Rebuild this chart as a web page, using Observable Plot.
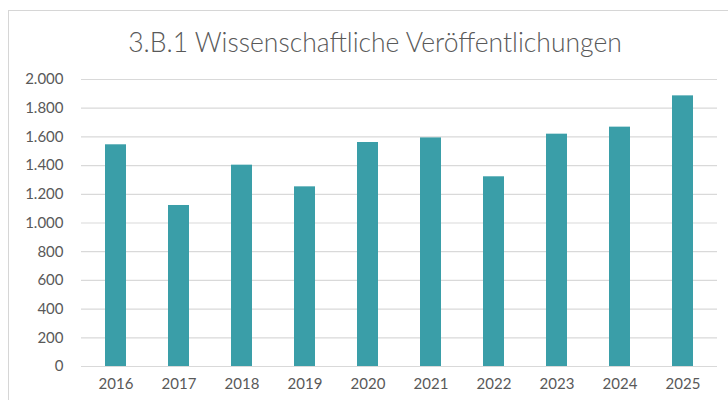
<!DOCTYPE html>
<html>
<head>
<meta charset="utf-8">
<script src="https://cdn.jsdelivr.net/npm/d3@7"></script>
<script src="https://cdn.jsdelivr.net/npm/@observablehq/plot@0.6"></script>
<style>
  html, body { margin: 0; padding: 0; background: #fff; overflow: hidden; }
  #wrap { position: relative; width: 728px; height: 400px; overflow: hidden; }
  #frame { position: absolute; left: 8px; top: 10px; width: 800px; height: 500px; border: 1px solid #d6d6d6; box-sizing: border-box; }
  #title { position: absolute; left: 0; width: 750px; top: 26px; text-align: center; font-family: Lato, "Open Sans", sans-serif; font-weight: 300; font-size: 26.5px; color: #595959; white-space: nowrap; }
  #chart { position: absolute; left: 0; top: 0; }
</style>
</head>
<body>
<div id="wrap">
  <div id="frame"></div>
  <div id="title">3.B.1 Wissenschaftliche Veröffentlichungen</div>
  <div id="chart"></div>
</div>
<script>
const years = ["2016", "2017", "2018", "2019", "2020", "2021", "2022", "2023", "2024", "2025"];
const publications = [1545, 1122, 1403, 1252, 1561, 1593, 1322, 1619, 1668, 1886];
const yTicks = [0, 200, 400, 600, 800, 1000, 1200, 1400, 1600, 1800, 2000];

const data = years.map((y, i) => ({year: y, value: publications[i]}));
const de = d3.formatLocale({decimal: ",", thousands: ".", grouping: [3], currency: ["", " €"]});
const fmt = de.format(",d");

const plot = Plot.plot({
  width: 728,
  height: 400,
  marginLeft: 81,
  marginRight: 11,
  marginTop: 79,
  marginBottom: 34,
  style: {fontFamily: "Lato, 'Open Sans', sans-serif", fontSize: "15px", color: "#595959", background: "transparent"},
  x: {domain: years, paddingInner: 0.67, paddingOuter: 0.335, label: null},
  y: {domain: [0, 2000], label: null},
  marks: [
    Plot.ruleY(yTicks, {stroke: "#d9d9d9", strokeWidth: 1.2}),
    Plot.barY(data, {x: "year", y: "value", fill: "#3a9ea8"}),
    Plot.axisY({ticks: yTicks, tickFormat: fmt, tickSize: 0, tickPadding: 18, label: null, fill: "#595959"}),
    Plot.axisX({tickSize: 0, tickPadding: 12, label: null, fill: "#595959"})
  ]
});
document.getElementById("chart").appendChild(plot);
</script>
</body>
</html>
